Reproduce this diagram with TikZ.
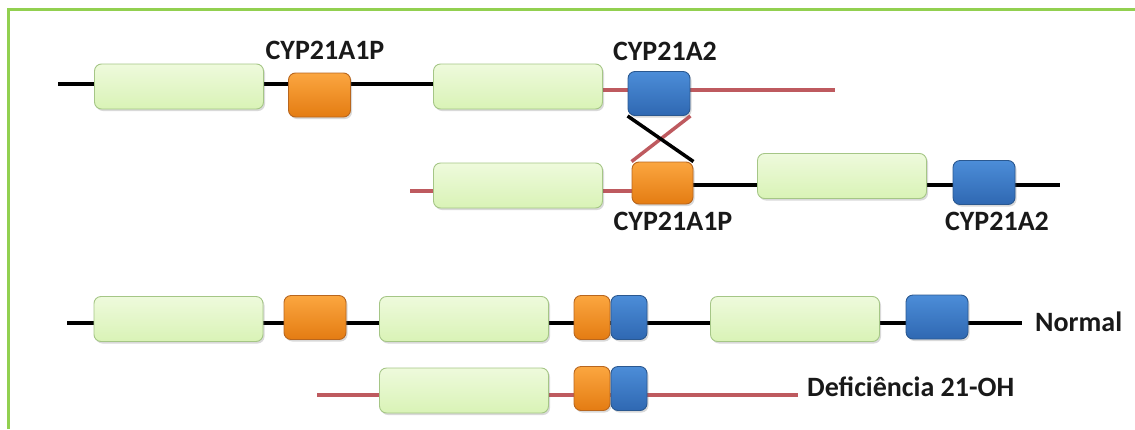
\documentclass[tikz,border=0pt]{standalone}
\usepackage{fontspec}
\setmainfont{Carlito}
\usetikzlibrary{backgrounds,shadows}
\definecolor{frameg}{HTML}{92D050}
\definecolor{gtop}{HTML}{EEFADC}
\definecolor{gbot}{HTML}{D9F3B6}
\definecolor{gedge}{HTML}{A5C686}
\definecolor{otop}{HTML}{FBA640}
\definecolor{obot}{HTML}{E47C12}
\definecolor{oedge}{HTML}{B8661E}
\definecolor{btop}{HTML}{4C8DD8}
\definecolor{bbot}{HTML}{2F68B2}
\definecolor{bedge}{HTML}{2A5890}
\definecolor{redl}{HTML}{BE5A5F}
\tikzset{
  box/.style={rounded corners=7pt, inner sep=0pt, line width=0.9pt,
    drop shadow={shadow xshift=1.5pt, shadow yshift=-2pt, opacity=0.25, fill=black!60}},
  gene/.style={box, draw=gedge, top color=gtop, bottom color=gbot, minimum width=169pt, minimum height=45pt},
  ogene/.style={box, draw=oedge, top color=otop, bottom color=obot, minimum width=62pt, minimum height=44pt},
  bgene/.style={box, draw=bedge, top color=btop, bottom color=bbot, minimum width=62pt, minimum height=44pt},
  blk/.style={line width=4pt, black},
  rdl/.style={line width=4pt, redl},
  lbl/.style={font=\fontsize{28}{33}\selectfont\bfseries, text=black!90, inner sep=0pt},
}
\begin{document}
\begin{tikzpicture}[x=1pt,y=-1pt]
\useasboundingbox (0,0) rectangle (1135,429);
\draw[frameg, line width=3pt] (8,429) -- (8,9) -- (1135,9);

% Row 1
\coordinate (s1) at (58,84);
\coordinate (e1) at (835,90);
\node[gene] (g1) at (179,86.5) {};
\node[ogene] (o1) at (319.5,95) {};
\node[gene] (g2) at (518,86.5) {};
\node[bgene] (b1) at (659,93.5) {};
\node[lbl] (l1) at (325,50) {CYP21A1P};
\node[lbl] (l2) at (665,51) {CYP21A2};

% Row 2
\coordinate (s2) at (410,191);
\coordinate (e2) at (1060,185);
\node[gene] (g3) at (518,185.5) {};
\node[ogene, minimum width=61pt, minimum height=42pt] (o2) at (662.5,183) {};
\node[gene] (g4) at (842,176) {};
\node[bgene] (b2) at (984,182.5) {};
\node[lbl] (l3) at (673,221) {CYP21A1P};
\node[lbl] (l4) at (997,221) {CYP21A2};

% Row 3
\coordinate (s3) at (67,323);
\coordinate (e3) at (1022,323);
\node[gene] (g5) at (178.5,319) {};
\node[ogene] (o3) at (315,317.5) {};
\node[gene] (g6) at (464,319) {};
\node[ogene, minimum width=36pt] (o4) at (592,317.5) {};
\node[bgene, minimum width=36pt] (b3) at (629,317.5) {};
\node[gene] (g7) at (795,319) {};
\node[bgene] (b4) at (937,317) {};
\node[lbl, anchor=west] (l5) at (1035,322) {Normal};

% Row 4
\coordinate (s4) at (317,395);
\coordinate (e4) at (798,395);
\node[gene] (g8) at (464,390.5) {};
\node[ogene, minimum width=36pt] (o5) at (592,388.5) {};
\node[bgene, minimum width=36pt] (b5) at (629,388.5) {};
\node[lbl, anchor=west] (l6) at (807,387) {Deficiência 21-OH};

\begin{scope}[on background layer]
  \draw[blk] (s1) -- (s1 -| g2.center);
  \draw[rdl] (e1 -| g2.center) -- (e1);
  \draw[rdl] (s2) -- (s2 -| o2.center);
  \draw[blk] (e2 -| o2.center) -- (e2);
  \draw[blk] (s3) -- (e3);
  \draw[rdl] (s4) -- (e4);
\end{scope}
% crossing-over
\draw[rdl, line width=3.5pt] (o2.north west) -- (b1.south east);
\draw[blk, line width=3.5pt] (b1.south west) -- (o2.north east);
\end{tikzpicture}
\end{document}
